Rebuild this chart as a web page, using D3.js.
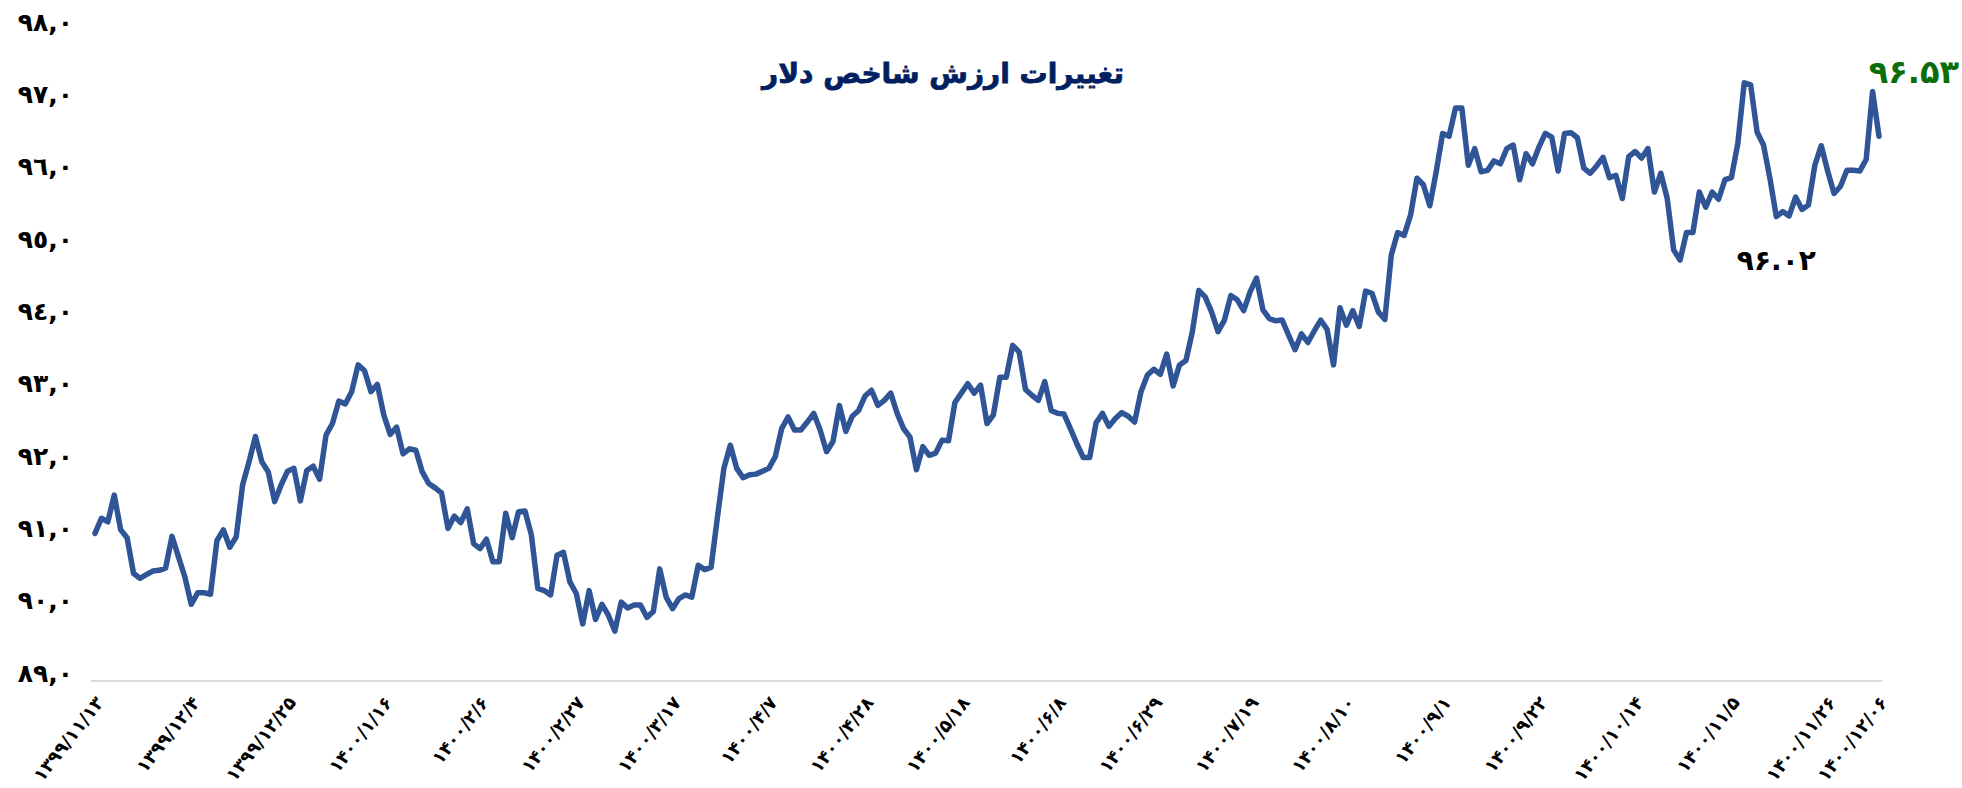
<!DOCTYPE html>
<html>
<head>
<meta charset="utf-8">
<script src="https://cdn.jsdelivr.net/npm/d3@7"></script>
<style>
  html, body { margin: 0; padding: 0; background: #ffffff; }
  svg { display: block; }
  text { font-family: "DejaVu Sans", sans-serif; }
</style>
</head>
<body>
<svg id="chart" width="1962" height="788"></svg>
<script>
// ---- data ----
const title = "تغییرات ارزش شاخص دلار";

const values = [
  91.04, 91.25, 91.20, 91.57, 91.09, 90.98, 90.49, 90.42, 90.47, 90.52,
  90.53, 90.56, 91.00, 90.72, 90.44, 90.06, 90.22, 90.22, 90.20, 90.94,
  91.09, 90.85, 90.99, 91.71, 92.03, 92.38, 92.03, 91.89, 91.48, 91.71,
  91.90, 91.94, 91.49, 91.91, 91.97, 91.79, 92.40, 92.56, 92.87, 92.83,
  93.00, 93.37, 93.29, 93.00, 93.10, 92.68, 92.41, 92.51, 92.14, 92.21,
  92.19, 91.89, 91.73, 91.67, 91.60, 91.11, 91.28, 91.19, 91.38, 90.90,
  90.83, 90.96, 90.65, 90.65, 91.32, 90.98, 91.34, 91.35, 91.02, 90.28,
  90.25, 90.19, 90.74, 90.78, 90.37, 90.21, 89.79, 90.25, 89.85, 90.06,
  89.91, 89.69, 90.09, 90.01, 90.05, 90.05, 89.88, 89.96, 90.55, 90.16,
  90.00, 90.14, 90.19, 90.16, 90.60, 90.54, 90.57, 91.27, 91.94, 92.26,
  91.94, 91.81, 91.85, 91.86, 91.90, 91.94, 92.10, 92.49, 92.65, 92.47,
  92.47, 92.58, 92.70, 92.47, 92.17, 92.31, 92.81, 92.45, 92.66, 92.74,
  92.94, 93.02, 92.81, 92.88, 92.98, 92.70, 92.49, 92.37, 91.92, 92.24,
  92.12, 92.15, 92.33, 92.32, 92.85, 92.98, 93.11, 92.98, 93.09, 92.56,
  92.68, 93.20, 93.20, 93.64, 93.55, 93.03, 92.95, 92.88, 93.14, 92.74,
  92.70, 92.69, 92.49, 92.28, 92.09, 92.09, 92.57, 92.70, 92.52, 92.63,
  92.71, 92.66, 92.58, 93.00, 93.23, 93.31, 93.24, 93.52, 93.08, 93.37,
  93.43, 93.83, 94.40, 94.31, 94.10, 93.83, 93.99, 94.33, 94.27, 94.12,
  94.38, 94.57, 94.13, 94.01, 93.98, 93.99, 93.78, 93.58, 93.80, 93.68,
  93.84, 93.99, 93.86, 93.37, 94.16, 93.92, 94.12, 93.90, 94.39, 94.36,
  94.10, 94.00, 94.89, 95.20, 95.16, 95.44, 95.95, 95.86, 95.57, 96.04,
  96.57, 96.53, 96.92, 96.92, 96.13, 96.36, 96.04, 96.06, 96.19, 96.15,
  96.36, 96.41, 95.93, 96.29, 96.15, 96.38, 96.57, 96.52, 96.05, 96.57,
  96.58, 96.51, 96.09, 96.02, 96.12, 96.24, 95.96, 95.99, 95.67, 96.25,
  96.32, 96.23, 96.36, 95.76, 96.02, 95.67, 94.96, 94.82, 95.20, 95.20,
  95.76, 95.55, 95.76, 95.66, 95.93, 95.96, 96.43, 97.27, 97.24, 96.59,
  96.41, 95.95, 95.42, 95.49, 95.43, 95.69, 95.52, 95.58, 96.13, 96.40,
  96.05, 95.74, 95.84, 96.06, 96.06, 96.05, 96.21, 97.15, 96.53
];

const tickIndex = [0, 15, 30, 45, 60, 75, 90, 105, 120, 135, 150, 165, 180, 195, 210, 225, 240, 255, 270, 278];
const tickLabels = [
  "۱۳۹۹/۱۱/۱۳", "۱۳۹۹/۱۲/۴", "۱۳۹۹/۱۲/۲۵", "۱۴۰۰/۱/۱۶", "۱۴۰۰/۲/۶",
  "۱۴۰۰/۲/۲۷", "۱۴۰۰/۳/۱۷", "۱۴۰۰/۴/۷", "۱۴۰۰/۴/۲۸", "۱۴۰۰/۵/۱۸",
  "۱۴۰۰/۶/۸", "۱۴۰۰/۶/۲۹", "۱۴۰۰/۷/۱۹", "۱۴۰۰/۸/۱۰", "۱۴۰۰/۹/۱",
  "۱۴۰۰/۹/۲۲", "۱۴۰۰/۱۰/۱۴", "۱۴۰۰/۱۱/۵", "۱۴۰۰/۱۱/۲۶", "۱۴۰۰/۱۲/۰۶"
];

const yTicks = [89, 90, 91, 92, 93, 94, 95, 96, 97, 98];
const yTickLabels = ["٨٩,٠", "٩٠,٠", "٩١,٠", "٩٢,٠", "٩٣,٠", "٩٤,٠", "٩٥,٠", "٩٦,٠", "٩٧,٠", "٩٨,٠"];

const lastLabel = "۹۶.۵۳";
const refLabel = "۹۶.۰۲";
const refLabelIndex = 262;
const refLabelValue = 94.68;

// ---- drawing ----
const svg = d3.select("#chart");
const x = d3.scaleLinear().domain([0, values.length - 1]).range([95, 1879]);
const y = d3.scaleLinear().domain([89, 98]).range([681, 30]);

// title
svg.append("text")
  .attr("x", 943).attr("y", 83)
  .attr("text-anchor", "middle")
  .attr("font-size", 28).attr("font-weight", "bold")
  .attr("fill", "#002060")
  .attr("stroke", "#002060").attr("stroke-width", 0.8)
  .attr("direction", "rtl")
  .text(title);

// y axis (labels only)
const yAxis = d3.axisLeft(y)
  .tickValues(yTicks)
  .tickSize(0)
  .tickPadding(0)
  .tickFormat(d => yTickLabels[yTicks.indexOf(d)]);
const gy = svg.append("g").attr("transform", "translate(73,-8)").call(yAxis);
gy.select(".domain").remove();
gy.selectAll("text")
  .attr("font-family", "DejaVu Sans")
  .attr("font-size", 25).attr("font-weight", "bold")
  .attr("fill", "#000");

// x axis
const xAxis = d3.axisBottom(x)
  .tickValues(tickIndex)
  .tickSize(0)
  .tickPadding(0)
  .tickFormat(d => tickLabels[tickIndex.indexOf(d)]);
const gx = svg.append("g").attr("transform", "translate(0,681)").call(xAxis);
gx.select(".domain")
  .attr("d", `M${x(0) - 4},0H${x(values.length - 1) + 3}`)
  .attr("stroke", "#d9d9d9").attr("stroke-width", 2);
gx.selectAll(".tick text")
  .attr("font-family", "DejaVu Sans")
  .attr("font-size", 18).attr("font-weight", "bold")
  .attr("fill", "#000")
  .attr("text-anchor", "end")
  .attr("dy", "0.35em")
  .attr("transform", "translate(4,18) rotate(-52)");

// line
const line = d3.line()
  .x((d, i) => x(i))
  .y(d => y(d));
svg.append("path")
  .datum(values)
  .attr("fill", "none")
  .attr("stroke", "#2F5597")
  .attr("stroke-width", 5.5)
  .attr("stroke-linejoin", "round")
  .attr("stroke-linecap", "round")
  .attr("d", line);

// annotations
const lastI = values.length - 1;
svg.append("text")
  .attr("x", x(lastI) + 80).attr("y", y(values[lastI]) - 53)
  .attr("text-anchor", "end")
  .attr("font-size", 32).attr("font-weight", "bold")
  .attr("fill", "#0a6e0a")
  .text(lastLabel);

svg.append("text")
  .attr("x", x(refLabelIndex)).attr("y", y(refLabelValue))
  .attr("text-anchor", "middle")
  .attr("font-size", 28).attr("font-weight", "bold")
  .attr("fill", "#000")
  .text(refLabel);
</script>
</body>
</html>
